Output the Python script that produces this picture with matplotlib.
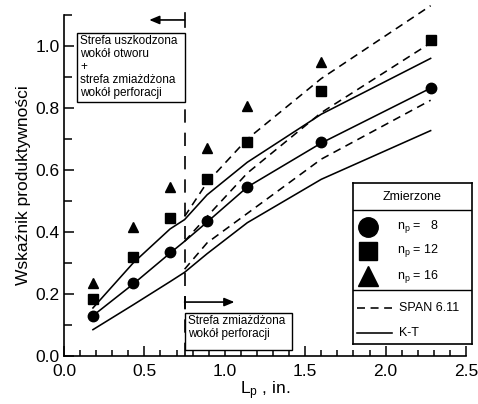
import matplotlib
matplotlib.use("Agg")
import matplotlib.pyplot as plt
from matplotlib.patches import Rectangle

plt.rcParams['font.family'] = ['Liberation Sans', 'DejaVu Sans']
plt.rcParams['mathtext.default'] = 'regular'

# measured productivity index
x_meas = [0.18, 0.43, 0.66, 0.89, 1.14, 1.60, 2.28]
np8 = [0.13, 0.235, 0.335, 0.435, 0.545, 0.69, 0.865]
np12 = [0.185, 0.32, 0.445, 0.57, 0.69, 0.855, 1.02]
x_np16 = [0.18, 0.43, 0.66, 0.89, 1.14, 1.60]
np16 = [0.235, 0.415, 0.545, 0.67, 0.805, 0.95]

# K-T model
x_kt = [0.18, 0.43, 0.66, 0.75, 0.89, 1.14, 1.60, 2.28]
kt_low = [0.085, 0.165, 0.24, 0.27, 0.33, 0.43, 0.57, 0.727]
kt_mid = [0.13, 0.232, 0.332, 0.37, 0.432, 0.545, 0.687, 0.864]
kt_up = [0.155, 0.30, 0.41, 0.44, 0.52, 0.625, 0.78, 0.96]

# SPAN 6.11 model
x_span = [0.75, 0.89, 1.14, 1.60, 2.28]
span_low = [0.28, 0.365, 0.46, 0.635, 0.825]
span_mid = [0.37, 0.45, 0.59, 0.785, 1.01]
span_up = [0.45, 0.56, 0.70, 0.895, 1.13]

x_zone = 0.75

fig = plt.figure(figsize=(4.78, 4.04), dpi=100)
ax = fig.add_axes([64/478, 1-356/404, (466-64)/478, (356-15)/404])

lw = 1.15
for y in (kt_low, kt_mid, kt_up):
    ax.plot(x_kt, y, color='black', lw=lw, clip_on=False)
for y in (span_low, span_mid, span_up):
    ax.plot(x_span, y, color='black', lw=lw, dashes=(5, 3.5), clip_on=False)

ax.plot(x_meas, np8, 'o', color='black', ms=7.5, clip_on=False)
ax.plot(x_meas, np12, 's', color='black', ms=6.5, clip_on=False)
ax.plot(x_np16, np16, '^', color='black', ms=7.5, clip_on=False)

# zone boundary
ax.plot([x_zone, x_zone], [0, 0.80], color='black', lw=1.2, dashes=(8, 6))

# upper arrow (left) and label box
ax.plot([x_zone, x_zone], [1.06, 1.105], color='black', lw=1.2, clip_on=False)
ax.annotate('', xy=(0.53, 1.084), xytext=(x_zone, 1.084),
            arrowprops=dict(arrowstyle='-|>,head_length=0.6,head_width=0.25',
                            color='black', lw=1.2, shrinkA=0, shrinkB=0),
            annotation_clip=False)
ax.add_patch(Rectangle((0.081, 0.819), x_zone - 0.081, 1.042 - 0.819,
                       facecolor='white', edgecolor='black', lw=1.0, zorder=3))
ax.text(0.1, 1.037, 'Strefa uszkodzona\nwokół otworu\n+\nstrefa zmiażdżona\nwokół perforacji',
        fontsize=8.5, va='top', ha='left', linespacing=1.13, zorder=4)

# lower arrow (right) and label box
ax.plot([x_zone, x_zone], [0.155, 0.19], color='black', lw=1.2)
ax.annotate('', xy=(1.06, 0.174), xytext=(x_zone, 0.174),
            arrowprops=dict(arrowstyle='-|>,head_length=0.6,head_width=0.25',
                            color='black', lw=1.2, shrinkA=0, shrinkB=0))
ax.add_patch(Rectangle((x_zone, 0.019), 1.42 - x_zone, 0.139 - 0.019,
                       facecolor='white', edgecolor='black', lw=1.0, zorder=3))
ax.text(0.772, 0.132, 'Strefa zmiażdżona\nwokół perforacji',
        fontsize=8.5, va='top', ha='left', linespacing=1.1, zorder=4)

ax.set_xlim(0, 2.5)
ax.set_ylim(0, 1.1)
ax.set_xticks([0, 0.5, 1.0, 1.5, 2.0, 2.5])
ax.set_xticks([i/10 for i in range(26)], minor=True)
ax.set_yticks([0, 0.2, 0.4, 0.6, 0.8, 1.0])
ax.set_yticks([i/10 for i in range(12)], minor=True)
ax.xaxis.set_major_formatter(plt.FormatStrFormatter('%.1f'))
ax.yaxis.set_major_formatter(plt.FormatStrFormatter('%.1f'))
ax.tick_params(which='both', direction='in', width=1.1, labelsize=12.5)
ax.tick_params(axis='x', which='major', length=7, pad=6)
ax.tick_params(axis='x', which='minor', length=4)
ax.tick_params(axis='y', which='major', length=7, pad=3)
ax.tick_params(axis='y', which='minor', length=6)
for s in ('top', 'right'):
    ax.spines[s].set_visible(False)
for s in ('left', 'bottom'):
    ax.spines[s].set_linewidth(1.2)
ax.set_xlabel('L$_\\mathregular{p}$ , in.', fontsize=12.5, labelpad=0)
ax.set_ylabel('Wskaźnik produktywności', fontsize=12.5, labelpad=3)

# legend box
lg = fig.add_axes([353/478, 1-344/404, (472-353)/478, (344-183)/404])
lg.set_xlim(0, 1)
lg.set_ylim(0, 1)
lg.set_xticks([])
lg.set_yticks([])
for s in lg.spines.values():
    s.set_linewidth(1.2)
lg.axhline(0.832, color='black', lw=1.0)
lg.axhline(0.335, color='black', lw=1.0)
lg.text(0.5, 0.915, 'Zmierzone', fontsize=9, ha='center', va='center')
rows = [('o', 14, 'n$_\\mathregular{p}$ =   8', 0.727),
        ('s', 13, 'n$_\\mathregular{p}$ = 12', 0.578),
        ('^', 14, 'n$_\\mathregular{p}$ = 16', 0.422)]
for m, size, label, yy in rows:
    lg.plot([0.13], [yy], m, color='black', ms=size)
    lg.text(0.37, yy, label, fontsize=9, va='center')
lg.plot([0.03, 0.33], [0.224, 0.224], color='black', lw=lw, dashes=(5, 3.5))
lg.text(0.39, 0.224, 'SPAN 6.11', fontsize=9, va='center')
lg.plot([0.03, 0.33], [0.068, 0.068], color='black', lw=lw)
lg.text(0.39, 0.068, 'K-T', fontsize=9, va='center')

fig.savefig('out.png', dpi=100)
